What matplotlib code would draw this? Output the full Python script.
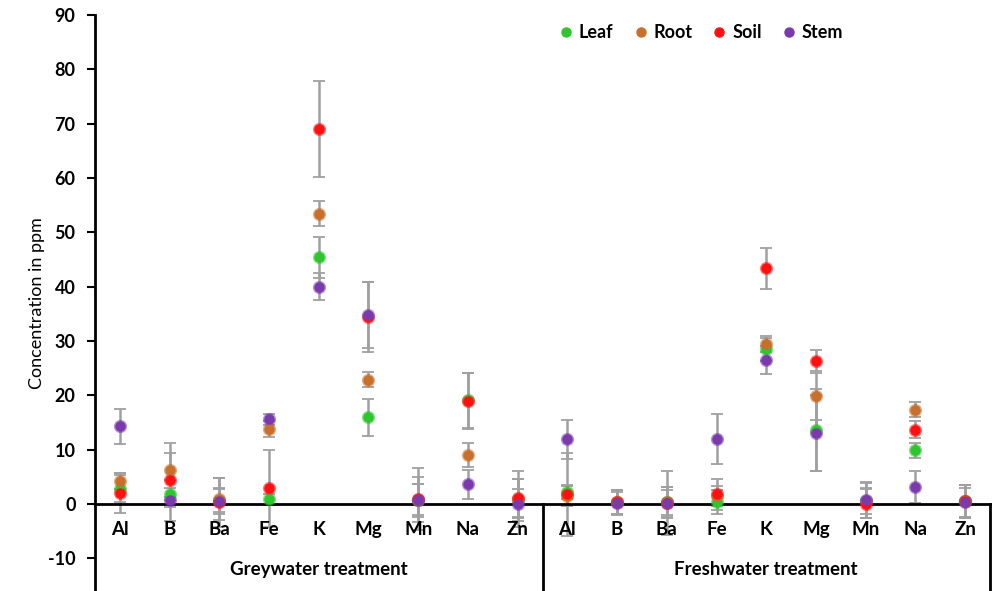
import matplotlib
matplotlib.use('Agg')
import numpy as np
import matplotlib.pyplot as plt

plt.rcParams['font.family'] = ['Lato', 'DejaVu Sans']
plt.rcParams['axes.unicode_minus'] = False

elements = ['Al', 'B', 'Ba', 'Fe', 'K', 'Mg', 'Mn', 'Na', 'Zn']
groups = ['Greywater treatment', 'Freshwater treatment']

# greywater (first 9) then freshwater (last 9)
leaf = [2.8, 1.9, 0.6, 0.9, 45.4, 16.0, 0.7, 19.1, 0.8,
        2.2, 0.3, 0.3, 0.4, 28.5, 13.6, 0.6, 9.9, 0.5]
leaf_err = [2.5, 1.1, 2.4, 1.0, 3.8, 3.4, 3.0, 5.1, 3.9,
            1.3, 2.3, 2.9, 2.2, 2.1, 7.5, 3.2, 1.4, 3.0]
root = [4.2, 6.3, 0.9, 13.8, 53.4, 22.9, 0.8, 9.1, 0.9,
        1.5, 0.4, 0.4, 1.5, 29.4, 19.8, 0.6, 17.4, 0.6]
root_err = [1.5, 5.0, 3.9, 1.4, 2.3, 1.4, 2.9, 2.2, 5.2,
            1.9, 2.2, 2.7, 1.9, 1.5, 4.4, 2.4, 1.4, 2.9]
soil = [2.0, 4.4, 0.3, 2.9, 69.0, 34.4, 0.9, 19.0, 1.2,
        1.8, 0.3, 0.2, 1.8, 43.4, 26.4, 0.1, 13.7, 0.5]
soil_err = [3.7, 5.0, 4.5, 7.1, 8.9, 6.5, 5.7, 5.2, 3.5,
            7.6, 2.2, 5.9, 2.9, 3.8, 2.0, 2.6, 1.6, 3.0]
stem = [14.3, 0.7, 0.6, 15.6, 40.0, 34.8, 0.8, 3.6, 0.1,
        11.9, 0.2, 0.2, 11.9, 26.5, 13.1, 0.7, 3.1, 0.3]
stem_err = [3.2, 3.8, 2.1, 1.0, 2.5, 6.0, 4.1, 2.7, 2.7,
            3.6, 2.0, 2.3, 4.6, 2.6, 7.0, 3.3, 2.9, 2.6]

series = [('Leaf', leaf, leaf_err, '#2ec52e'),
          ('Root', root, root_err, '#c8702b'),
          ('Soil', soil, soil_err, '#ff1010'),
          ('Stem', stem, stem_err, '#7a3aad')]

x = np.arange(len(elements) * 2)
labels = elements + elements

fig = plt.figure(figsize=(9.96, 5.91), dpi=100)
ax = fig.add_axes([0.0954, 0.0, 0.8986, 0.9746])

for name, vals, errs, col in series:
    ax.errorbar(x, vals, yerr=errs, fmt='none', ecolor='#a0a0a0',
                elinewidth=1.8, capsize=4, capthick=1.3, zorder=2)
for name, vals, errs, col in series:
    ax.plot(x, vals, 'o', color=col, markersize=9.5,
            markeredgecolor=col, markeredgewidth=0, alpha=0.55, zorder=3)
    ax.plot(x, vals, 'o', color=col, markersize=6.5, zorder=4, label=name)

ax.set_xlim(-0.5, 17.5)
ax.set_ylim(-16, 90)
ax.set_yticks(np.arange(-10, 91, 10))

ax.spines['top'].set_visible(False)
ax.spines['right'].set_visible(False)
ax.spines['bottom'].set_position(('data', 0))
ax.spines['bottom'].set_linewidth(2)
ax.spines['left'].set_linewidth(2)
ax.xaxis.set_zorder(6)

ax.set_xticks(x)
ax.set_xticklabels(labels, fontsize=13.5, fontweight='bold')
ax.tick_params(axis='x', length=0, pad=12)
ax.tick_params(axis='y', direction='out', length=6, width=1.5,
               labelsize=13, pad=8)
for t in ax.get_yticklabels():
    t.set_fontweight('bold')

ax.set_ylabel('Concentration in ppm', fontsize=13, labelpad=2)

# group separators and group labels under the category axis
for xs in [8.5, 17.5]:
    ax.plot([xs, xs], [0, -16], color='black', lw=2, clip_on=False)
for i, g in enumerate(groups):
    ax.text(4 + 9 * i, -12.1, g, ha='center', va='center',
            fontsize=13.5, fontweight='bold')

leg = ax.legend(loc='upper center', bbox_to_anchor=(0.675, 1.012), ncol=4,
                frameon=False, handletextpad=0.1, columnspacing=0.9,
                handlelength=1.2, prop={'size': 13, 'weight': 'bold'})

fig.savefig('out.png', dpi=100)
